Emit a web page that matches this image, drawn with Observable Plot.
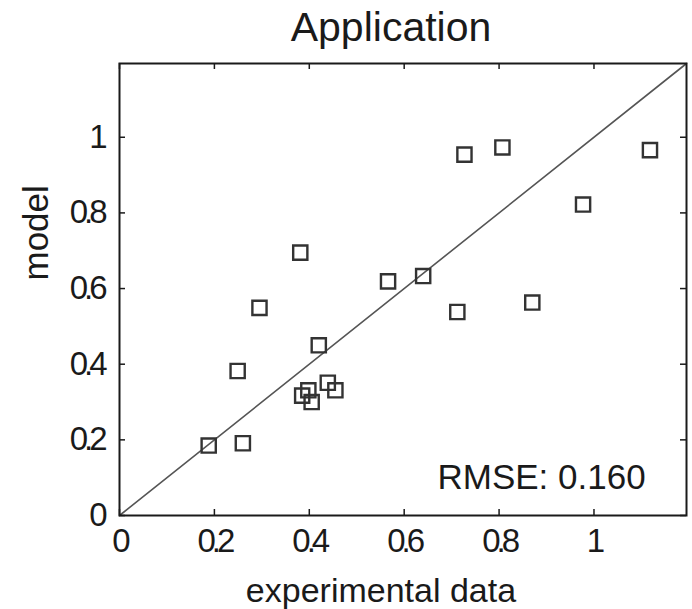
<!DOCTYPE html>
<html><head><meta charset="utf-8">
<script src="https://cdn.jsdelivr.net/npm/d3@7"></script>
<script src="https://cdn.jsdelivr.net/npm/@observablehq/plot@0.6"></script>
<style>body{margin:0;background:#fff}</style>
</head><body><div id="chart"></div>
<script>
const title = "Application";
const xLabel = "experimental data";
const yLabel = "model";
const rmseLabel = "RMSE: 0.160";
const axisMax = 1.195;
const tickValues = [0, 0.2, 0.4, 0.6, 0.8, 1];
const experimental = [0.188, 0.260, 0.249, 0.295, 0.381, 0.420, 0.398, 0.385, 0.405, 0.439, 0.455, 0.566, 0.640, 0.712, 0.727, 0.807, 0.870, 0.977, 1.118];
const model        = [0.185, 0.191, 0.382, 0.549, 0.695, 0.450, 0.331, 0.317, 0.300, 0.351, 0.331, 0.619, 0.633, 0.538, 0.954, 0.973, 0.563, 0.822, 0.966];

const points = experimental.map((x, i) => ({x, y: model[i]}));
const diagonal = [{x: 0, y: 0}, {x: axisMax, y: axisMax}];

const W = 692, H = 609, mL = 119, mR = 6, mT = 63, mB = 94;
const plotW = W - mL - mR, plotH = H - mT - mB;
const tickLen = 6;
const fontFamily = "'Liberation Sans', Arial, sans-serif";
const ink = "#1a1a1a";

const chart = Plot.plot({
  width: W, height: H,
  marginLeft: mL, marginRight: mR, marginTop: mT, marginBottom: mB,
  style: {fontFamily, color: ink, background: "#fff"},
  x: {domain: [0, axisMax]},
  y: {domain: [0, axisMax]},
  marks: [
    Plot.line(diagonal, {x: "x", y: "y", stroke: "#555", strokeWidth: 1.6}),
    Plot.dot(points, {x: "x", y: "y", symbol: "square", r: 8, stroke: "#333", strokeWidth: 2.4, fill: "none"}),
    // inward ticks on all four sides
    Plot.tickX(tickValues, {x: d => d, insetTop: plotH - tickLen, stroke: ink, strokeWidth: 1.5}),
    Plot.tickX(tickValues, {x: d => d, insetBottom: plotH - tickLen, stroke: ink, strokeWidth: 1.5}),
    Plot.tickY(tickValues, {y: d => d, insetRight: plotW - tickLen, stroke: ink, strokeWidth: 1.5}),
    Plot.tickY(tickValues, {y: d => d, insetLeft: plotW - tickLen, stroke: ink, strokeWidth: 1.5}),
    Plot.frame({stroke: ink, strokeWidth: 2}),
    Plot.axisX(tickValues, {anchor: "bottom", tickSize: 0, tickPadding: 13, tickFormat: d => String(d), label: null,
      fontSize: 33, fill: ink}),
    Plot.axisY(tickValues, {anchor: "left", tickSize: 0, tickPadding: 16, tickFormat: d => String(d), label: null,
      fontSize: 33, fill: ink}),
    Plot.text([title], {frameAnchor: "top", dx: -12, dy: -23, lineAnchor: "bottom", fontSize: 41, fill: ink}),
    Plot.text([xLabel], {frameAnchor: "bottom", dx: -22, dy: 86, lineAnchor: "bottom", fontSize: 34, fill: ink}),
    Plot.text([yLabel], {frameAnchor: "left", dx: -72, dy: -9, rotate: -90, lineAnchor: "bottom", fontSize: 35, fill: ink}),
    Plot.text([rmseLabel], {frameAnchor: "bottom-left", dx: 318, dy: -27, textAnchor: "start", lineAnchor: "bottom", fontSize: 35, fill: ink})
  ]
});
// MATLAB-style condensed tick labels
d3.select(chart).selectAll('g[aria-label="x-axis tick label"] text, g[aria-label="y-axis tick label"] text')
  .attr("letter-spacing", "-4px");
document.getElementById("chart").appendChild(chart);
</script>
</body></html>
